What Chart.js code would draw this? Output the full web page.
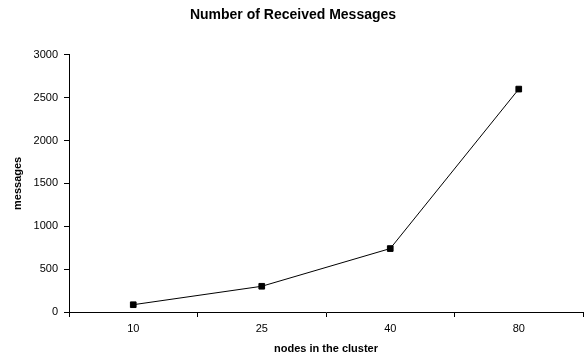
<!DOCTYPE html>
<html>
<head>
<meta charset="utf-8">
<script src="https://cdn.jsdelivr.net/npm/chart.js@4/dist/chart.umd.min.js"></script>
<style>
  html, body { margin: 0; padding: 0; background: #fff; }
  #wrap { width: 588px; height: 361px; }
</style>
</head>
<body>
<div id="wrap"><canvas id="messagesChart" width="588" height="361"></canvas></div>
<script>
// data
const nodeCounts = ['10', '25', '40', '80'];
const receivedMessages = [85, 300, 740, 2600];
const yTicks = [0, 500, 1000, 1500, 2000, 2500, 3000];

const FONT = '"Liberation Sans", Arial, sans-serif';

const ctx = document.getElementById('messagesChart').getContext('2d');
new Chart(ctx, {
    type: 'line',
    data: {
        labels: nodeCounts,
        datasets: [{
            label: 'messages',
            data: receivedMessages,
            borderColor: '#000',
            backgroundColor: '#000',
            borderWidth: 1,
            fill: false,
            tension: 0,
            pointStyle: 'rect',
            pointRadius: 4,
            pointHoverRadius: 4,
        }]
    },
    options: {
        responsive: false,
        animation: false,
        devicePixelRatio: 1,
        layout: { padding: { left: 0, right: 2, top: 0, bottom: 0 } },
        plugins: {
            legend: { display: false },
            tooltip: { enabled: false },
            title: {
                display: true,
                text: 'Number of Received Messages',
                color: '#000',
                font: { family: FONT, size: 14, weight: 'bold' },
                padding: { top: 7, bottom: 31 }
            }
        },
        scales: {
            x: {
                type: 'category',
                offset: true,
                grid: { offset: true, drawOnChartArea: false, drawTicks: true, tickLength: 5, color: '#000' },
                border: { display: true, color: '#000', width: 1 },
                ticks: { color: '#000', padding: 5, font: { family: FONT, size: 11 } },
                title: {
                    display: true,
                    text: 'nodes in the cluster',
                    color: '#000',
                    font: { family: FONT, size: 11, weight: 'bold' },
                    padding: { top: 6, bottom: 5 }
                },
                afterFit: (scale) => { scale.height = 49; }
            },
            y: {
                min: 0,
                max: 3000,
                grid: { drawOnChartArea: false, drawTicks: true, tickLength: 5, color: '#000' },
                border: { display: true, color: '#000', width: 1 },
                ticks: {
                    color: '#000',
                    padding: 6,
                    font: { family: FONT, size: 11 },
                    callback: (v) => String(v)
                },
                afterBuildTicks: (scale) => { scale.ticks = yTicks.map(v => ({ value: v })); },
                title: {
                    display: true,
                    text: 'messages',
                    color: '#000',
                    font: { family: FONT, size: 11, weight: 'bold' },
                    padding: { top: 11, bottom: 0 }
                },
                afterFit: (scale) => { scale.width = 69; }
            }
        }
    }
});
</script>
</body>
</html>
